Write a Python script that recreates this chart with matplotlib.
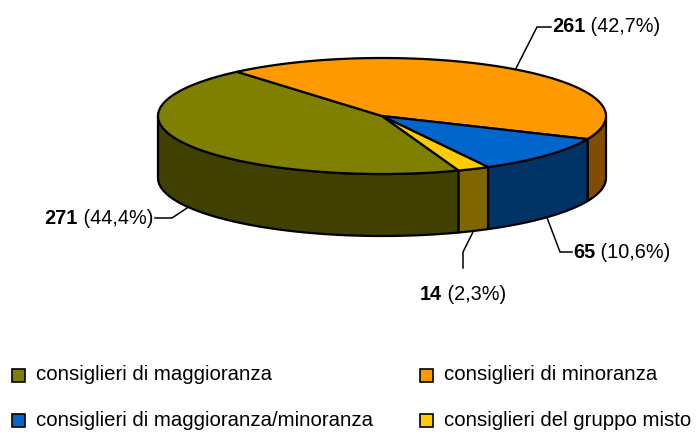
import numpy as np
import matplotlib
matplotlib.use("Agg")
import matplotlib.pyplot as plt
from matplotlib.patches import Polygon, Rectangle

plt.rcParams['font.family'] = ['Liberation Sans', 'DejaVu Sans']

categories = ["consiglieri di maggioranza", "consiglieri di minoranza",
              "consiglieri di maggioranza/minoranza", "consiglieri del gruppo misto"]
values = [271, 261, 65, 14]
top_colors = ["#808000", "#FF9900", "#0066CC", "#FFCC00"]
side_colors = ["#404000", "#7F4C00", "#003366", "#7F6600"]

# ellipse geometry (pixels, y down)
cx, cy = 382, 116
ra, rb = 224, 58
depth = 62
start = -70.0   # first slice starts here, slices run clockwise

def pt(theta, dz=0):
    t = np.radians(theta)
    return cx + ra * np.cos(t), cy - rb * np.sin(t) + dz

def arc(lo, hi, dz=0, n=120):
    th = np.linspace(lo, hi, n)
    t = np.radians(th)
    return np.column_stack([cx + ra * np.cos(t), cy - rb * np.sin(t) + dz])

fig = plt.figure(figsize=(6.97, 4.34), dpi=100)
ax = fig.add_axes([0, 0, 1, 1])
ax.set_xlim(0, 697)
ax.set_ylim(434, 0)
ax.axis("off")

total = sum(values)
spans = [v / total * 360 for v in values]
slices = []
hi = start
for s in spans:
    slices.append((hi - s, hi))
    hi -= s

# outer walls, only the front half (sin < 0) is visible
for (lo, hi), col in zip(slices, side_colors):
    for k in range(-2, 2):
        f_lo, f_hi = -180 + 360 * k, 360 * k
        a, b = max(lo, f_lo), min(hi, f_hi)
        if b - a > 1e-6:
            top = arc(a, b)
            bot = arc(a, b, depth)[::-1]
            ax.add_patch(Polygon(np.vstack([top, bot]), closed=True,
                                 facecolor=col, edgecolor="black", lw=1.6,
                                 joinstyle="round"))

# top face wedges
for (lo, hi), col in zip(slices, top_colors):
    pts = np.vstack([[cx, cy], arc(lo, hi)])
    ax.add_patch(Polygon(pts, closed=True, facecolor=col, edgecolor="black",
                         lw=1.6, joinstyle="round"))

# data labels with leader lines: (elbow, end of line, text side)
label_layout = [
    ((172, 218), (155, 218), "left"),
    ((537, 27), (551, 27), "right"),
    ((560, 252), (572, 252), "right"),
    ((463, 252), (463, 268), "below"),
]

renderer = fig.canvas.get_renderer()
fs = 14.3
for (lo, hi), v, (elbow, end, side) in zip(slices, values, label_layout):
    mid = (lo + hi) / 2
    x0, y0 = pt(mid, depth if np.sin(np.radians(mid)) < 0 else 0)
    ax.plot([x0, elbow[0], end[0]], [y0, elbow[1], end[1]], color="black", lw=1.1)
    num = f"{v}"
    pct = f" ({v / total * 100:.1f}%)".replace(".", ",")
    if side == "left":
        tp = ax.text(end[0] - 2, end[1], pct, fontsize=fs, ha="right", va="center")
        w = tp.get_window_extent(renderer).width
        ax.text(end[0] - 2 - w, end[1], num, fontsize=fs, fontweight="bold",
                ha="right", va="center")
    else:
        if side == "right":
            tx, ty = end[0] + 1, end[1]
        else:
            tx, ty = end[0] - 43, end[1] + 27
        tn = ax.text(tx, ty, num, fontsize=fs, fontweight="bold", ha="left", va="center")
        w = tn.get_window_extent(renderer).width
        ax.text(tx + w, ty, pct, fontsize=fs, ha="left", va="center")

# legend
legend_pos = [(12, 375), (420, 375), (12, 420), (420, 420)]
for (lx, ly), name, col in zip(legend_pos, categories, top_colors):
    ax.add_patch(Rectangle((lx, ly - 6.5), 13, 13, facecolor=col,
                           edgecolor="black", lw=1.2))
    ax.text(lx + 24, ly, name, fontsize=14.7, ha="left", va="center")

fig.savefig("out.png", dpi=100)
